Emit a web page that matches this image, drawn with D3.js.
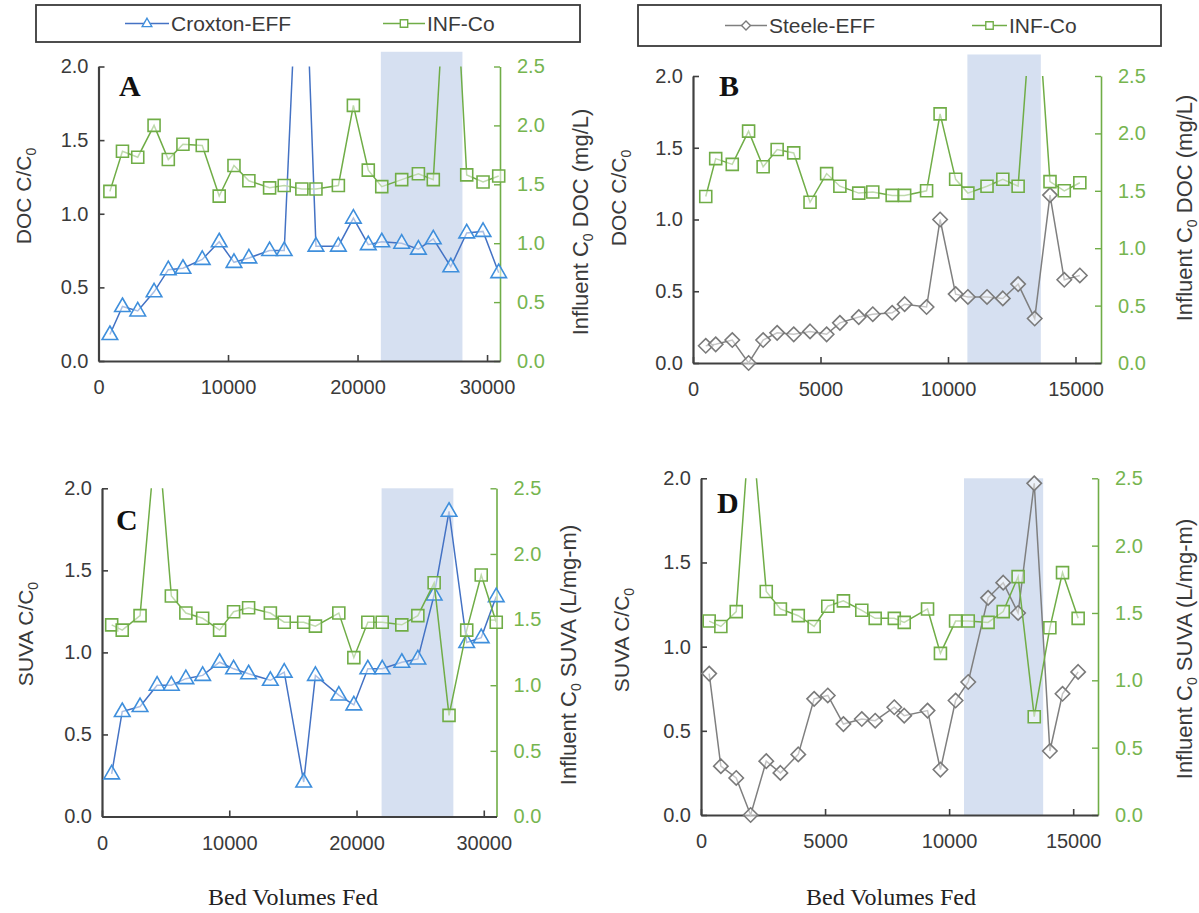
<!DOCTYPE html>
<html>
<head>
<meta charset="utf-8">
<script src="https://cdn.jsdelivr.net/npm/d3@7"></script>
<style>
  html, body { margin: 0; padding: 0; background: #fff; }
  svg { display: block; font-family: "Liberation Sans", Arial, sans-serif; }
</style>
</head>
<body>
<svg id="chart" width="1199" height="913"></svg>
<script>
// ---- Data: bed volumes fed and C/C0 / influent C0 per sample ----
const bedVolumesA = [880, 1850, 3030, 4290, 5390, 6520, 8010, 9320, 10460, 11610, 13210, 14340, 15700, 16790, 18520, 19680, 20830, 21870, 23410, 24700, 25850, 27200, 28430, 29690, 30900];
const croxtonDocRatio = [0.18, 0.37, 0.34, 0.47, 0.62, 0.63, 0.69, 0.81, 0.67, 0.70, 0.75, 0.75, 3.4, 0.78, 0.78, 0.97, 0.79, 0.81, 0.80, 0.76, 0.83, 0.64, 0.87, 0.88, 0.60];
const influentDocA = [1.44, 1.78, 1.73, 2.00, 1.71, 1.84, 1.83, 1.40, 1.66, 1.53, 1.47, 1.49, 1.46, 1.46, 1.49, 2.17, 1.62, 1.48, 1.54, 1.59, 1.54, 4.1, 1.58, 1.52, 1.57];

const bedVolumesB = [500, 890, 1540, 2180, 2750, 3300, 3950, 4590, 5240, 5760, 6500, 7050, 7810, 8300, 9160, 9690, 10300, 10780, 11530, 12150, 12750, 13400, 14000, 14560, 15170];
const steeleDocRatio = [0.12, 0.13, 0.16, 0.0, 0.16, 0.21, 0.20, 0.22, 0.20, 0.28, 0.32, 0.34, 0.35, 0.41, 0.39, 1.00, 0.48, 0.46, 0.46, 0.45, 0.55, 0.31, 1.17, 0.58, 0.61];
const influentDocB = [1.45, 1.78, 1.73, 2.02, 1.71, 1.86, 1.83, 1.40, 1.65, 1.54, 1.48, 1.49, 1.46, 1.46, 1.50, 2.17, 1.60, 1.48, 1.54, 1.60, 1.54, 3.5, 1.58, 1.50, 1.57];

const bedVolumesC = [760, 1590, 2990, 4330, 5450, 6590, 7910, 9240, 10340, 11520, 13230, 14320, 15850, 16770, 18610, 19790, 20890, 22020, 23560, 24820, 26100, 27270, 28660, 29800, 30980];
const croxtonSuvaRatio = [0.26, 0.64, 0.67, 0.80, 0.80, 0.84, 0.86, 0.94, 0.90, 0.87, 0.83, 0.88, 0.21, 0.86, 0.74, 0.68, 0.90, 0.90, 0.94, 0.96, 1.35, 1.86, 1.06, 1.09, 1.34];
const influentSuvaC = [1.46, 1.42, 1.53, 3.0, 1.68, 1.55, 1.51, 1.42, 1.56, 1.59, 1.55, 1.48, 1.48, 1.45, 1.55, 1.21, 1.48, 1.48, 1.46, 1.53, 1.78, 0.77, 1.42, 1.84, 1.48];

const bedVolumesD = [330, 800, 1420, 2000, 2630, 3200, 3920, 4560, 5110, 5740, 6480, 7020, 7790, 8190, 9130, 9650, 10260, 10770, 11570, 12180, 12780, 13430, 14060, 14570, 15200];
const steeleSuvaRatio = [0.84, 0.29, 0.22, 0.0, 0.32, 0.25, 0.36, 0.69, 0.71, 0.54, 0.57, 0.56, 0.64, 0.59, 0.62, 0.27, 0.68, 0.79, 1.29, 1.38, 1.20, 1.97, 0.38, 0.72, 0.85];
const influentSuvaD = [1.44, 1.40, 1.51, 3.0, 1.66, 1.53, 1.48, 1.40, 1.55, 1.59, 1.52, 1.46, 1.46, 1.43, 1.53, 1.20, 1.44, 1.44, 1.43, 1.51, 1.77, 0.73, 1.39, 1.80, 1.46];

// highlighted bed-volume windows
const shadeA = [21800, 28100];
const shadeB = [10760, 13640];
const shadeC = [21970, 27610];
const shadeD = [10600, 13790];

// tick values
const xTicksCroxton = [0, 10000, 20000, 30000];
const xTicksSteele = [0, 5000, 10000, 15000];
const ratioTicks = [0, 0.5, 1.0, 1.5, 2.0];
const influentTicks = [0, 0.5, 1.0, 1.5, 2.0, 2.5];

const legendCroxton = ["Croxton-EFF", "INF-Co"];
const legendSteele = ["Steele-EFF", "INF-Co"];

// ---- Styles ----
const C = {
  blueLine: "#4472c4", blueMark: "#3f8fdc",
  greyLine: "#7f7f7f", greyMark: "#7a7a7a",
  green: "#70ad47", greenText: "#76b54f",
  axis: "#404040", text: "#3a3a3a", shade: "#d6e0f1"
};
const SANS = "'Liberation Sans', Arial, sans-serif";
const SERIF = "'Liberation Serif', 'Times New Roman', serif";

const svg = d3.select("#chart");

// marker shapes centred on (0,0)
const markerPath = {
  triangle: "M0,-8.5L7.8,5L-7.8,5Z",
  square: "M-6,-6H6V6H-6Z",
  diamond: "M0,-7.2L7.2,0L0,7.2L-7.2,0Z"
};

const panels = [
  { key: "A", bv: bedVolumesA, eff: croxtonDocRatio, inf: influentDocA, effKind: "triangle",
    effLine: C.blueLine, effMark: C.blueMark, xDomain: [0, 31000], xRange: [98.5, 500], yRange: [361, 66.5],
    xTicks: xTicksCroxton, shade: shadeA, shadeTop: 2.1, measure: "DOC", unit: " DOC (mg/L)",
    leftTitle: [24, 196], rightTitle: [580, 222], letter: [119, 96], xTitle: null },
  { key: "B", bv: bedVolumesB, eff: steeleDocRatio, inf: influentDocB, effKind: "diamond",
    effLine: C.greyLine, effMark: C.greyMark, xDomain: [0, 16000], xRange: [693, 1101], yRange: [363, 76],
    xTicks: xTicksSteele, shade: shadeB, shadeTop: 2.15, measure: "DOC", unit: " DOC (mg/L)",
    leftTitle: [619, 198], rightTitle: [1184, 208], letter: [719, 96], xTitle: null },
  { key: "C", bv: bedVolumesC, eff: croxtonSuvaRatio, inf: influentSuvaC, effKind: "triangle",
    effLine: C.blueLine, effMark: C.blueMark, xDomain: [0, 31000], xRange: [102, 496.5], yRange: [816.5, 488.3],
    xTicks: xTicksCroxton, shade: shadeC, shadeTop: 2.0, measure: "SUVA", unit: " SUVA (L/mg-m)",
    leftTitle: [26, 634], rightTitle: [568, 655], letter: [116, 530], xTitle: [293, 905] },
  { key: "D", bv: bedVolumesD, eff: steeleSuvaRatio, inf: influentSuvaD, effKind: "diamond",
    effLine: C.greyLine, effMark: C.greyMark, xDomain: [0, 16000], xRange: [701, 1098], yRange: [815, 478.3],
    xTicks: xTicksSteele, shade: shadeD, shadeTop: 2.0, measure: "SUVA", unit: " SUVA (L/mg-m)",
    leftTitle: [622, 640], rightTitle: [1184, 649], letter: [717, 513], xTitle: [891, 905] }
];

function subTitle(sel, before, sub, after) {
  sel.append("tspan").text(before);
  sel.append("tspan").attr("font-size", 14).attr("dy", 5).text(sub);
  if (after) sel.append("tspan").attr("dy", -5).text(after);
}

panels.forEach(p => {
  const g = svg.append("g");
  const x = d3.scaleLinear().domain(p.xDomain).range(p.xRange);
  const yL = d3.scaleLinear().domain([0, 2]).range(p.yRange);
  const yR = d3.scaleLinear().domain([0, 2.5]).range(p.yRange);
  const pts = p.bv.map((b, i) => ({ b, e: p.eff[i], f: p.inf[i] }));

  // highlighted window
  g.append("rect")
    .attr("x", x(p.shade[0])).attr("width", x(p.shade[1]) - x(p.shade[0]))
    .attr("y", yL(p.shadeTop)).attr("height", yL(0) - yL(p.shadeTop))
    .attr("fill", C.shade);

  // clipping: lines stop at the plot frame, markers may overhang slightly
  const lineClip = "lc" + p.key, markClip = "mc" + p.key;
  const defs = g.append("defs");
  defs.append("clipPath").attr("id", lineClip).append("rect")
    .attr("x", p.xRange[0]).attr("y", p.yRange[1])
    .attr("width", p.xRange[1] - p.xRange[0]).attr("height", p.yRange[0] - p.yRange[1] + 10);
  defs.append("clipPath").attr("id", markClip).append("rect")
    .attr("x", p.xRange[0] - 12).attr("y", p.yRange[1] - 12)
    .attr("width", p.xRange[1] - p.xRange[0] + 24).attr("height", p.yRange[0] - p.yRange[1] + 24);

  // axes
  const axBottom = g.append("g").attr("transform", `translate(0,${p.yRange[0]})`)
    .call(d3.axisBottom(x).tickValues(p.xTicks).tickFormat(d3.format("d"))
      .tickSizeInner(-6).tickSizeOuter(0).tickPadding(19));
  const axLeft = g.append("g").attr("transform", `translate(${p.xRange[0]},0)`)
    .call(d3.axisLeft(yL).tickValues(ratioTicks).tickFormat(d3.format(".1f"))
      .tickSizeInner(-6).tickSizeOuter(0).tickPadding(10));
  const axRight = g.append("g").attr("transform", `translate(${p.xRange[1]},0)`)
    .call(d3.axisRight(yR).tickValues(influentTicks).tickFormat(d3.format(".1f"))
      .tickSizeInner(-6).tickSizeOuter(0).tickPadding(17));

  [axBottom, axLeft].forEach(a => {
    a.select(".domain").attr("stroke", C.axis).attr("stroke-width", 2.2);
    a.selectAll(".tick line").attr("stroke", C.axis).attr("stroke-width", 1.6);
    a.selectAll(".tick text").attr("fill", C.text).attr("font-size", 20).attr("font-family", SANS);
  });
  axRight.select(".domain").attr("stroke", C.green).attr("stroke-width", 1.6);
  axRight.selectAll(".tick line").attr("stroke", C.green).attr("stroke-width", 1.4);
  axRight.selectAll(".tick text").attr("fill", C.greenText).attr("font-size", 20).attr("font-family", SANS);
  axBottom.raise();

  // effluent C/C0 series
  const effLine = d3.line().x(d => x(d.b)).y(d => yL(d.e));
  g.append("path").datum(pts).attr("d", effLine)
    .attr("fill", "none").attr("stroke", p.effLine).attr("stroke-width", 1.5)
    .attr("clip-path", `url(#${lineClip})`);
  g.append("g").attr("clip-path", `url(#${markClip})`)
    .selectAll("path").data(pts).join("path")
    .attr("d", markerPath[p.effKind])
    .attr("transform", d => `translate(${x(d.b)},${yL(d.e)})`)
    .attr("fill", "#fff").attr("fill-opacity", 0.55)
    .attr("stroke", p.effMark).attr("stroke-width", 1.6);

  // influent C0 series on the secondary axis
  const infLine = d3.line().x(d => x(d.b)).y(d => yR(d.f));
  g.append("path").datum(pts).attr("d", infLine)
    .attr("fill", "none").attr("stroke", C.green).attr("stroke-width", 1.5)
    .attr("clip-path", `url(#${lineClip})`);
  g.append("g").attr("clip-path", `url(#${markClip})`)
    .selectAll("path").data(pts).join("path")
    .attr("d", markerPath.square)
    .attr("transform", d => `translate(${x(d.b)},${yR(d.f)})`)
    .attr("fill", "#fff").attr("fill-opacity", 0.55)
    .attr("stroke", C.green).attr("stroke-width", 1.6);

  // panel letter
  g.append("text").attr("x", p.letter[0]).attr("y", p.letter[1])
    .style("font-family", SERIF).style("font-weight", "bold").style("font-size", "30px")
    .attr("fill", "#111")
    .text(p.key);

  // axis titles
  const lt = g.append("text")
    .attr("transform", `translate(${p.leftTitle[0]},${p.leftTitle[1]}) rotate(-90)`)
    .attr("text-anchor", "middle").attr("dy", "0.35em")
    .attr("font-size", 21).attr("fill", C.text);
  subTitle(lt, p.measure + " C/C", "0", null);
  const rt = g.append("text")
    .attr("transform", `translate(${p.rightTitle[0]},${p.rightTitle[1]}) rotate(-90)`)
    .attr("text-anchor", "middle").attr("dy", "0.35em")
    .attr("font-size", 22).attr("fill", C.text);
  subTitle(rt, "Influent C", "0", p.unit);

  if (p.xTitle) {
    g.append("text").attr("x", p.xTitle[0]).attr("y", p.xTitle[1])
      .attr("text-anchor", "middle")
      .style("font-family", SERIF).style("font-size", "24px")
      .attr("fill", "#222")
      .text("Bed Volumes Fed");
  }
});

// ---- Legends ----
function legend(box, names, effKind, effLine, effMark, items) {
  const g = svg.append("g");
  g.append("rect").attr("x", box[0]).attr("y", box[1])
    .attr("width", box[2] - box[0]).attr("height", box[3] - box[1])
    .attr("fill", "#fff").attr("stroke", "#3a3a3a").attr("stroke-width", 1.8);
  const cy = (box[1] + box[3]) / 2;
  const spec = [
    { kind: effKind, line: effLine, mark: effMark, name: names[0], pos: items[0] },
    { kind: "square", line: C.green, mark: C.green, name: names[1], pos: items[1] }
  ];
  spec.forEach(s => {
    g.append("line").attr("x1", s.pos[0]).attr("x2", s.pos[1]).attr("y1", cy).attr("y2", cy)
      .attr("stroke", s.line).attr("stroke-width", 1.5);
    g.append("path").attr("d", markerPath[s.kind])
      .attr("transform", `translate(${(s.pos[0] + s.pos[1]) / 2},${cy}) scale(0.62)`)
      .attr("fill", "#fff").attr("stroke", s.mark).attr("stroke-width", 2.2);
    g.append("text").attr("x", s.pos[1] + 2).attr("y", cy).attr("dy", "0.36em")
      .attr("font-size", 21).attr("fill", C.text).text(s.name);
  });
}
legend([36, 5, 580, 42], legendCroxton, "triangle", C.blueLine, C.blueMark, [[125, 169], [383, 425]]);
legend([638, 5, 1161, 46], legendSteele, "diamond", C.greyLine, C.greyMark, [[725, 767], [972, 1007]]);
</script>
</body>
</html>
